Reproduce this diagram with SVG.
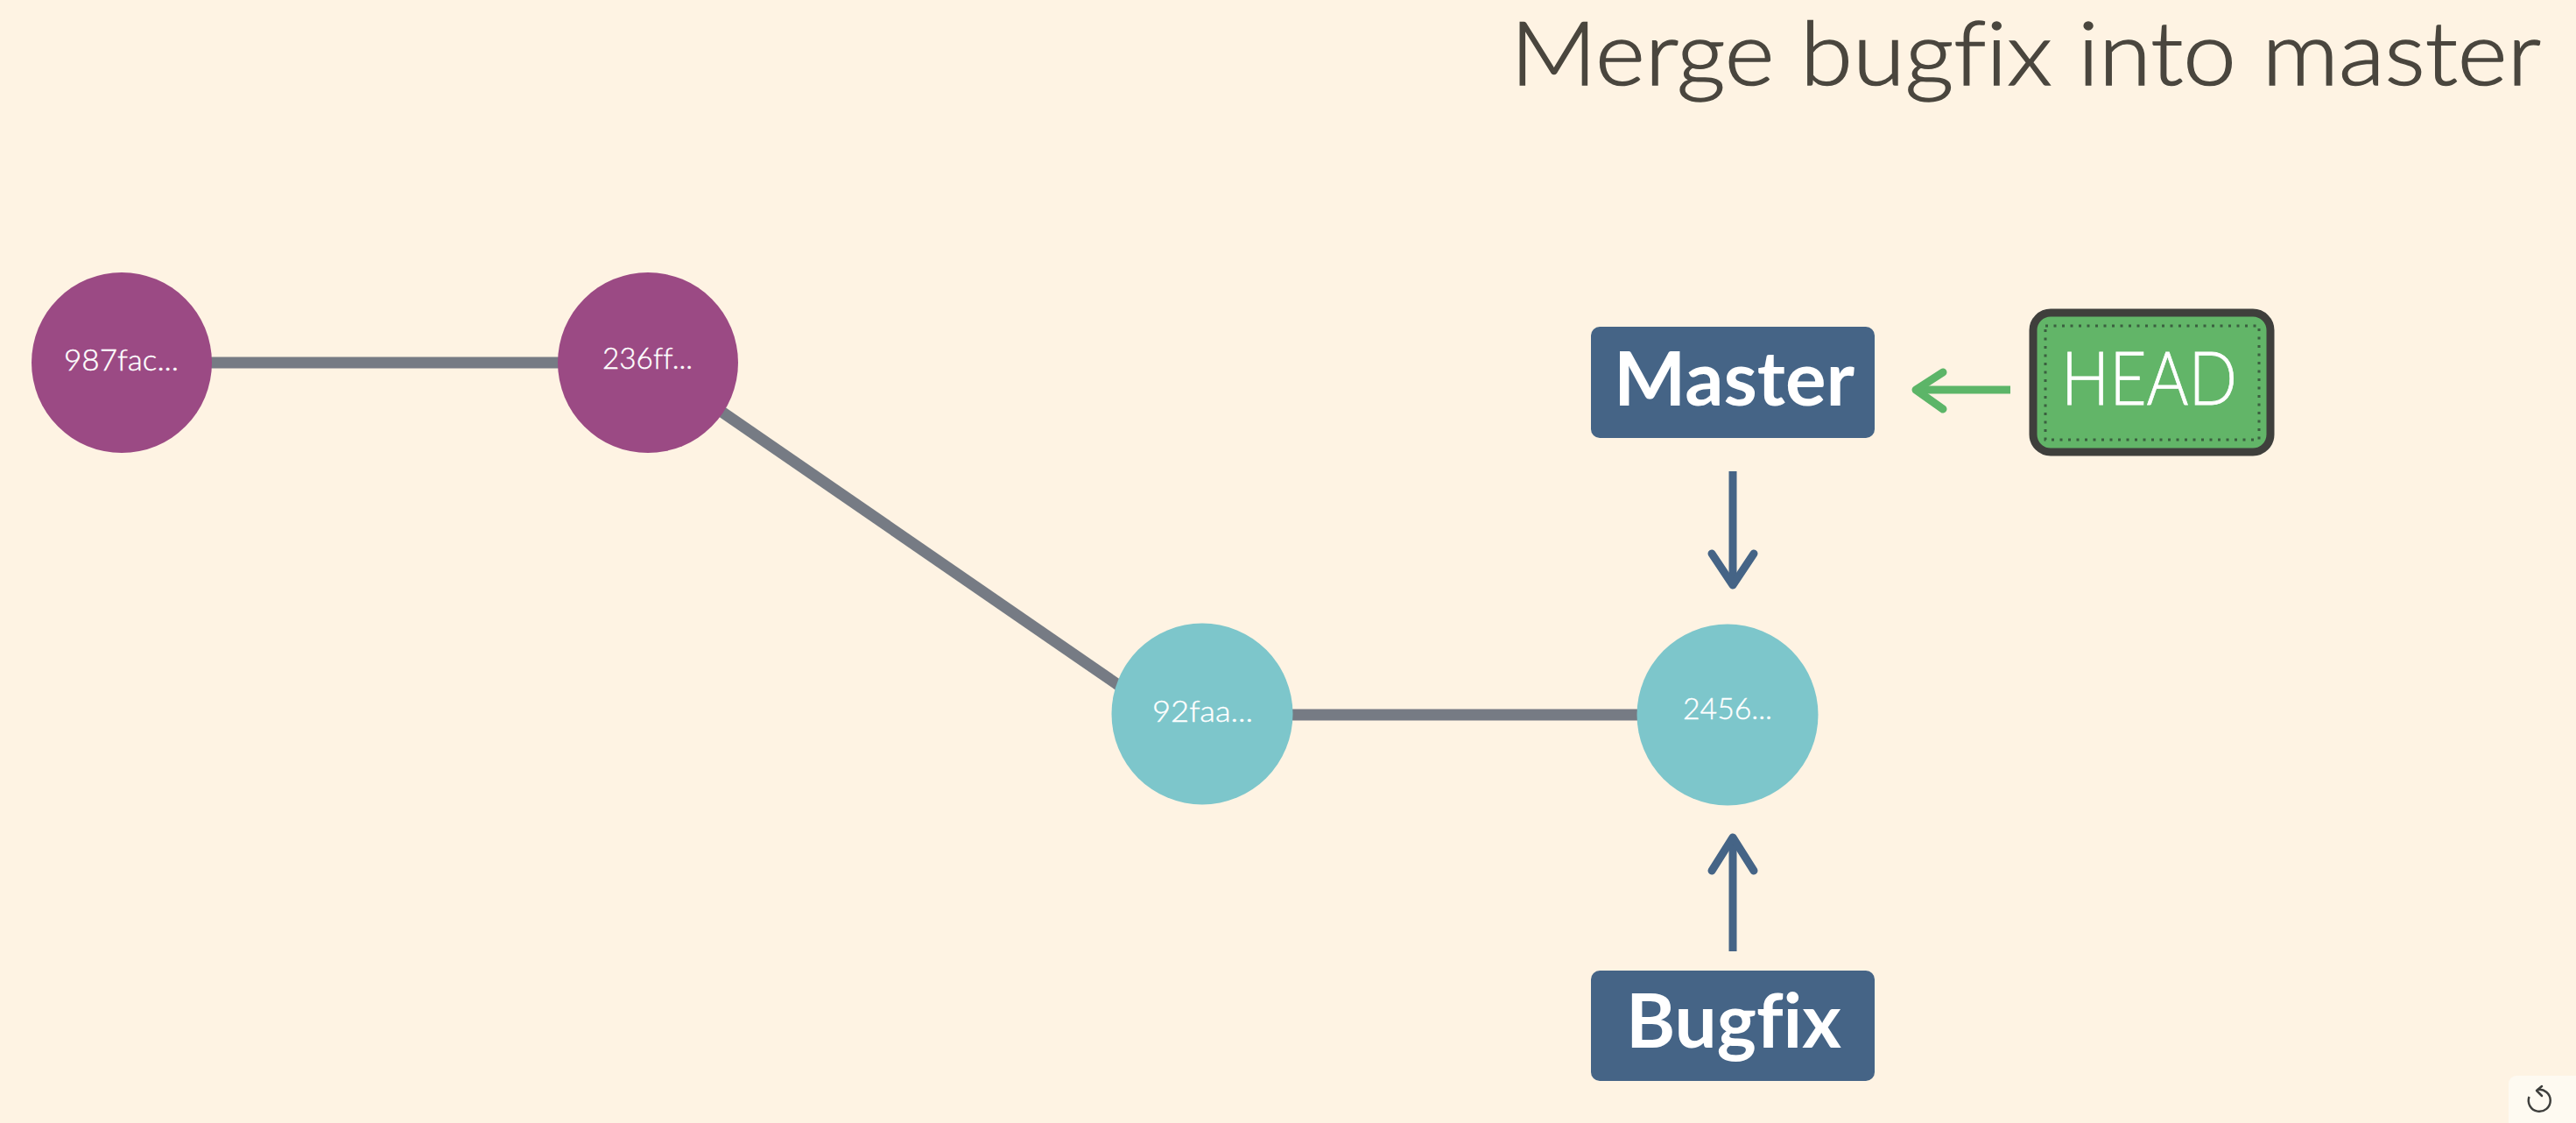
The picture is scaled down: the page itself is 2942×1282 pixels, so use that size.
<svg xmlns="http://www.w3.org/2000/svg" width="2942" height="1282" viewBox="0 0 2942 1282">
<style>
text{font-family:"Lato","Liberation Sans",sans-serif;fill:#fff;font-variant-ligatures:none}
.hash{font-size:34px;font-weight:300;stroke:#fff;stroke-width:.4}
.branch{font-size:86px;font-weight:700}
.edge{stroke:#767b84;stroke-width:13;fill:none}
.shaft{stroke-width:9;fill:none}
.head{stroke-width:9;fill:none;stroke-linecap:round;stroke-linejoin:round}
.ptr{fill:#456486}
.blue{stroke:#456486}
.green{stroke:#5cb568}
.old{fill:#9b4a84}
.new{fill:#7dc6cb}
</style>
<rect width="2942" height="1282" fill="#fef3e3"/>
<g id="title"><text x="1725" y="97" font-size="100" font-weight="300" style="fill:#4a463e;stroke:#4a463e;stroke-width:1.500" textLength="1177" lengthAdjust="spacingAndGlyphs">Merge bugfix into master</text></g>
<g id="connectors">
<line class="edge" x1="139" y1="414" x2="740" y2="414"/>
<line class="edge" x1="740" y1="412" x2="1373" y2="848"/>
<line class="edge" x1="1373" y1="816" x2="1973" y2="816"/>
<path class="shaft green" d="M2296 445H2190"/>
<path class="head green" d="M2219 425L2188 445L2219 467"/>
<path class="shaft blue" d="M1979 538V668"/>
<path class="head blue" d="M1955 632L1979 668L2003 632"/>
<path class="shaft blue" d="M1979 1086V956"/>
<path class="head blue" d="M1955 994L1979 956L2003 994"/>
</g>
<g id="commit-987fac"><circle class="old" cx="139" cy="414" r="103"/><text class="hash" x="73" y="423" textLength="131" lengthAdjust="spacingAndGlyphs">987fac...</text></g>
<g id="commit-236ff"><circle class="old" cx="740" cy="414" r="103"/><text class="hash" x="688" y="421" textLength="103" lengthAdjust="spacingAndGlyphs">236ff...</text></g>
<g id="commit-92faa"><circle class="new" cx="1373" cy="815" r="103.500"/><text class="hash" x="1316" y="824" textLength="115" lengthAdjust="spacingAndGlyphs">92faa...</text></g>
<g id="commit-2456"><circle class="new" cx="1973" cy="816" r="103.500"/><text class="hash" x="1922" y="821" textLength="102" lengthAdjust="spacingAndGlyphs">2456...</text></g>
<g id="master"><rect class="ptr" x="1817" y="373" width="324" height="127" rx="10"/><text class="branch" x="1843" y="463" textLength="275" lengthAdjust="spacingAndGlyphs">Master</text></g>
<g id="bugfix"><rect class="ptr" x="1817" y="1108" width="324" height="126" rx="10"/><text class="branch" x="1857" y="1196" textLength="246" lengthAdjust="spacingAndGlyphs">Bugfix</text></g>
<g id="head">
<rect x="2322" y="357" width="271" height="159" rx="20" fill="#62b568" stroke="#3f3f3c" stroke-width="9"/>
<rect x="2336" y="372" width="244" height="130" fill="none" stroke="#3a5f3f" stroke-width="3" stroke-dasharray="3 6.500"/>
<text x="2354" y="462" font-size="84" font-weight="300" style="stroke:#fff;stroke-width:.8" textLength="201" lengthAdjust="spacingAndGlyphs">HEAD</text>
</g>
<g id="reset">
<rect x="2865" y="1228" width="90" height="70" rx="9" fill="#fefaf1"/>
<path d="M2898 1244A12.500 12.500 0 1 1 2888.500 1252" fill="none" stroke="#3f3f3c" stroke-width="2.500"/>
<path d="M2903 1240L2897 1245L2903 1251" fill="none" stroke="#3f3f3c" stroke-width="2.500" stroke-linecap="round" stroke-linejoin="round"/>
</g>
</svg>
